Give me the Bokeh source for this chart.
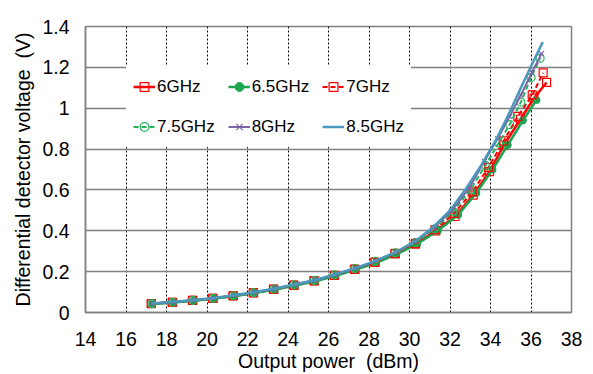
from bokeh.plotting import figure
from bokeh.models import (Legend, LegendItem, FixedTicker, CustomJSTickFormatter, Range1d)
from bokeh.embed import file_html
from bokeh.resources import INLINE

# ---- data ----
x_6 = [17.25, 18.30, 19.30, 20.30, 21.30, 22.30, 23.30, 24.30, 25.30, 26.30, 27.30, 28.30,
       29.30, 30.30, 31.30, 32.25, 33.15, 33.95, 34.66, 35.48, 36.15, 36.77]
v_6 = [0.043, 0.050, 0.059, 0.069, 0.081, 0.096, 0.113, 0.133, 0.155, 0.181, 0.211, 0.245,
       0.287, 0.335, 0.400, 0.470, 0.575, 0.690, 0.820, 0.946, 1.050, 1.126]

x_65 = [17.30, 18.35, 19.35, 20.35, 21.35, 22.35, 23.35, 24.35, 25.35, 26.35, 27.35, 28.35,
        29.35, 30.38, 31.40, 32.40, 33.30, 34.10, 34.85, 35.60, 36.27]
v_65 = [0.042, 0.049, 0.058, 0.068, 0.080, 0.095, 0.112, 0.132, 0.153, 0.180, 0.210, 0.243,
        0.285, 0.335, 0.400, 0.478, 0.585, 0.700, 0.820, 0.940, 1.040]

x_7 = [17.25, 18.28, 19.28, 20.28, 21.28, 22.28, 23.28, 24.28, 25.28, 26.28, 27.28, 28.28,
       29.28, 30.28, 31.25, 32.20, 33.10, 33.90, 34.65, 35.35, 36.06, 36.60]
v_7 = [0.044, 0.050, 0.059, 0.069, 0.082, 0.097, 0.114, 0.134, 0.156, 0.182, 0.212, 0.247,
       0.289, 0.338, 0.405, 0.485, 0.590, 0.710, 0.840, 0.960, 1.065, 1.173]

x_75 = [17.28, 18.30, 19.30, 20.30, 21.30, 22.30, 23.30, 24.30, 25.30, 26.30, 27.30, 28.30,
        29.30, 30.30, 31.25, 32.15, 33.00, 33.75, 34.40, 34.95, 35.50, 36.00, 36.45]
v_75 = [0.043, 0.050, 0.059, 0.069, 0.082, 0.097, 0.115, 0.135, 0.157, 0.184, 0.215, 0.250,
        0.292, 0.342, 0.410, 0.495, 0.600, 0.720, 0.830, 0.920, 1.030, 1.150, 1.245]

x_8 = [17.28, 18.32, 19.32, 20.32, 21.32, 22.32, 23.32, 24.32, 25.32, 26.32, 27.32, 28.32,
       29.32, 30.30, 31.22, 32.10, 32.95, 33.70, 34.35, 34.95, 35.50, 36.05, 36.52]
v_8 = [0.044, 0.051, 0.060, 0.070, 0.083, 0.098, 0.116, 0.136, 0.158, 0.185, 0.216, 0.252,
       0.295, 0.348, 0.415, 0.500, 0.610, 0.740, 0.850, 0.960, 1.065, 1.175, 1.267]

x_85 = [17.30, 18.33, 19.33, 20.33, 21.33, 22.33, 23.33, 24.33, 25.33, 26.33, 27.33, 28.33,
        29.33, 30.30, 31.20, 32.05, 32.85, 33.60, 34.30, 34.90, 35.50, 36.05, 36.58]
v_85 = [0.045, 0.052, 0.061, 0.071, 0.084, 0.099, 0.117, 0.137, 0.159, 0.186, 0.217, 0.253,
        0.296, 0.350, 0.420, 0.505, 0.615, 0.730, 0.850, 0.970, 1.100, 1.215, 1.324]

labels = ["6GHz", "6.5GHz", "7GHz", "7.5GHz", "8GHz", "8.5GHz"]
x_ticks = [14, 16, 18, 20, 22, 24, 26, 28, 30, 32, 34, 36, 38]
y_ticks = [0, 0.2, 0.4, 0.6, 0.8, 1.0, 1.2, 1.4]

FONT = "Liberation Sans"
RED = "#FF0000"
GREEN = "#1AA550"
GREEN2 = "#22B45A"
PURPLE = "#7E62A6"
BLUE = "#4A98BE"

p = figure(width=593, height=374, output_backend="svg", toolbar_location=None,
           x_range=Range1d(14, 38), y_range=Range1d(0, 1.4),
           min_border_left=85, min_border_right=22, min_border_top=26, min_border_bottom=60)
p.background_fill_color = "white"
p.border_fill_color = "white"
p.outline_line_color = "#808080"
p.outline_line_width = 1.5

# axes
for ax in (p.xaxis[0], p.yaxis[0]):
    ax.major_tick_out = 0
    ax.major_tick_in = 0
    ax.minor_tick_out = 0
    ax.minor_tick_in = 0
    ax.axis_line_color = "#808080"
    ax.axis_line_width = 1.5
    ax.major_label_text_font = FONT
    ax.major_label_text_font_size = "19.5px"
    ax.major_label_text_color = "black"
    ax.axis_label_text_font = FONT
    ax.axis_label_text_font_size = "19.5px"
    ax.axis_label_text_font_style = "normal"
    ax.axis_label_text_color = "black"

p.xaxis[0].ticker = FixedTicker(ticks=x_ticks)
p.yaxis[0].ticker = FixedTicker(ticks=y_ticks)
p.yaxis[0].formatter = CustomJSTickFormatter(code="return String(Number(tick.toFixed(2)));")
p.xaxis[0].axis_label = "Output power\u00a0\u00a0(dBm)"
p.yaxis[0].axis_label = "Differential detector voltage\u00a0\u00a0(V)"
p.xaxis[0].major_label_standoff = 19
p.xaxis[0].axis_label_standoff = 1
p.yaxis[0].major_label_standoff = 16
p.yaxis[0].axis_label_standoff = 5

# grids
p.xgrid.grid_line_color = "black"
p.xgrid.grid_line_width = 1
p.xgrid.grid_line_dash = "2 2"
p.xgrid.ticker = FixedTicker(ticks=x_ticks)
p.ygrid.grid_line_color = "#808080"
p.ygrid.grid_line_width = 1.5
p.ygrid.ticker = FixedTicker(ticks=y_ticks)

items = []

r1 = p.line(x_6, v_6, line_color=RED, line_width=2.5)
m1 = p.scatter(x_6, v_6, marker="square", size=8, line_color=RED, fill_alpha=0, line_width=1.2)
items.append(LegendItem(label=labels[0], renderers=[r1, m1]))

r2 = p.line(x_65, v_65, line_color=GREEN, line_width=2.5)
m2 = p.scatter(x_65, v_65, marker="circle", size=7, line_color=GREEN, fill_color=GREEN)
items.append(LegendItem(label=labels[1], renderers=[r2, m2]))

r3 = p.line(x_7, v_7, line_color=RED, line_width=2, line_dash="5 3")
m3 = p.scatter(x_7, v_7, marker="square", size=8, line_color=RED, fill_alpha=0, line_width=1.2)
items.append(LegendItem(label=labels[2], renderers=[r3, m3]))

r4 = p.line(x_75, v_75, line_color=GREEN2, line_width=2, line_dash="5 3")
m4 = p.scatter(x_75, v_75, marker="circle", size=8, line_color=GREEN2, fill_alpha=0, line_width=1.2)
items.append(LegendItem(label=labels[3], renderers=[r4, m4]))

r5 = p.line(x_8, v_8, line_color=PURPLE, line_width=2)
m5 = p.scatter(x_8, v_8, marker="x", size=7, line_color=PURPLE, line_width=1.2)
items.append(LegendItem(label=labels[4], renderers=[r5, m5]))

r6 = p.line(x_85, v_85, line_color=BLUE, line_width=2.5)
items.append(LegendItem(label=labels[5], renderers=[r6]))

legend = Legend(items=items, orientation="horizontal", ncols=3,
                location=(41, 165), background_fill_color="white", background_fill_alpha=1,
                border_line_alpha=0, label_text_font=FONT, label_text_font_size="17px",
                label_text_color="black", glyph_width=22, glyph_height=27, label_standoff=2,
                spacing=13, padding=7, margin=0, label_height=27)
p.add_layout(legend, "center")

open("out.html", "w").write(file_html(p, INLINE))
